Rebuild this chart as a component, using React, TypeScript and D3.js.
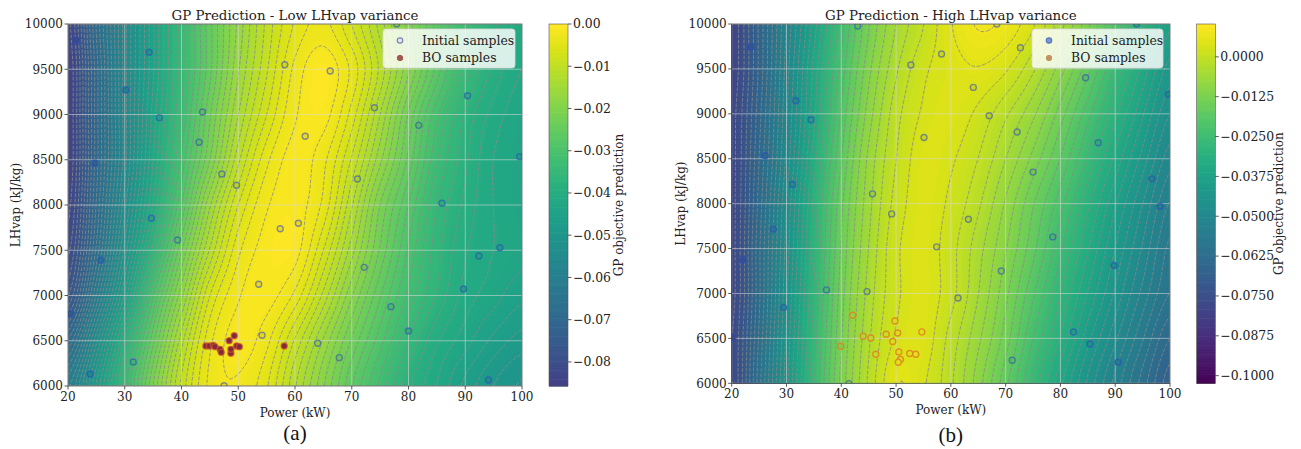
import React, { useMemo } from "react";
import * as d3 from "d3";

const FONT = "'DejaVu Serif', serif";

// ---------- data ----------
const powerTicks = [20, 30, 40, 50, 60, 70, 80, 90, 100];
const lhvapTicks = [6000, 6500, 7000, 7500, 8000, 8500, 9000, 9500, 10000];
const gridPower = [20, 25, 30, 35, 40, 45, 50, 55, 60, 65, 70, 75, 80, 85, 90, 95, 100];
const gridLhvap = [10000, 9500, 9000, 8500, 8000, 7500, 7000, 6500, 6000];

// GP mean, low LHvap variance (rows = gridLhvap, cols = gridPower)
const lowVarField = [
  [-0.083, -0.068, -0.055, -0.044, -0.034, -0.025, -0.017, -0.010, -0.005, -0.003, -0.007, -0.013, -0.020, -0.027, -0.033, -0.038, -0.041],
  [-0.084, -0.069, -0.055, -0.044, -0.034, -0.025, -0.016, -0.009, -0.003, -0.0005, -0.004, -0.011, -0.019, -0.027, -0.034, -0.039, -0.042],
  [-0.084, -0.069, -0.055, -0.043, -0.033, -0.023, -0.014, -0.007, -0.002, -0.001, -0.006, -0.014, -0.023, -0.031, -0.037, -0.041, -0.043],
  [-0.084, -0.069, -0.055, -0.042, -0.031, -0.021, -0.011, -0.004, -0.001, -0.003, -0.009, -0.017, -0.025, -0.033, -0.038, -0.042, -0.043],
  [-0.083, -0.068, -0.053, -0.040, -0.028, -0.016, -0.007, -0.002, -0.001, -0.004, -0.012, -0.021, -0.028, -0.035, -0.039, -0.042, -0.043],
  [-0.081, -0.066, -0.050, -0.036, -0.023, -0.012, -0.004, -0.001, -0.001, -0.007, -0.015, -0.023, -0.030, -0.036, -0.040, -0.042, -0.043],
  [-0.077, -0.061, -0.045, -0.030, -0.018, -0.007, -0.002, -0.001, -0.004, -0.011, -0.019, -0.026, -0.032, -0.037, -0.041, -0.043, -0.045],
  [-0.068, -0.053, -0.038, -0.025, -0.013, -0.004, -0.001, -0.003, -0.009, -0.016, -0.023, -0.029, -0.035, -0.040, -0.043, -0.046, -0.048],
  [-0.060, -0.047, -0.034, -0.021, -0.010, -0.003, -0.002, -0.005, -0.012, -0.019, -0.026, -0.032, -0.038, -0.042, -0.046, -0.049, -0.051],
];

// GP mean, high LHvap variance
const highVarField = [
  [-0.079, -0.066, -0.051, -0.037, -0.024, -0.013, -0.005, 0.000, 0.005, 0.008, 0.007, 0.003, -0.004, -0.012, -0.021, -0.030, -0.038],
  [-0.079, -0.066, -0.050, -0.035, -0.022, -0.011, -0.003, 0.002, 0.004, 0.005, 0.003, -0.002, -0.009, -0.017, -0.026, -0.034, -0.042],
  [-0.078, -0.065, -0.049, -0.034, -0.020, -0.009, -0.001, 0.003, 0.004, 0.002, -0.002, -0.007, -0.014, -0.022, -0.030, -0.038, -0.046],
  [-0.078, -0.064, -0.048, -0.032, -0.018, -0.007, 0.000, 0.004, 0.003, 0.000, -0.005, -0.011, -0.018, -0.026, -0.034, -0.042, -0.050],
  [-0.078, -0.063, -0.046, -0.030, -0.016, -0.006, 0.001, 0.004, 0.002, -0.002, -0.008, -0.015, -0.022, -0.030, -0.038, -0.046, -0.054],
  [-0.078, -0.062, -0.045, -0.029, -0.015, -0.005, 0.002, 0.004, 0.001, -0.004, -0.010, -0.017, -0.025, -0.033, -0.041, -0.049, -0.057],
  [-0.078, -0.062, -0.044, -0.028, -0.014, -0.004, 0.002, 0.004, 0.001, -0.005, -0.012, -0.020, -0.028, -0.036, -0.044, -0.052, -0.059],
  [-0.077, -0.061, -0.043, -0.027, -0.013, -0.003, 0.003, 0.004, -0.001, -0.007, -0.014, -0.023, -0.031, -0.040, -0.048, -0.056, -0.064],
  [-0.077, -0.060, -0.042, -0.026, -0.012, -0.002, 0.005, 0.003, -0.002, -0.009, -0.017, -0.026, -0.035, -0.044, -0.052, -0.060, -0.068],
];

const lowInitPower = [21.5, 34.3, 30.2, 36.1, 43.7, 43.1, 24.7, 47.1, 49.7, 34.7, 58.2, 61.8, 66.2, 60.6, 57.4, 74.0, 77.9, 90.4, 81.8, 99.6, 71.0, 85.9, 39.3, 25.8, 53.6, 20.4, 54.2, 31.5, 23.9, 64.0, 47.5, 72.2, 76.9, 67.8, 80.0, 89.7, 92.4, 96.1, 94.1];
const lowInitLhvap = [9823, 9687, 9271, 8965, 9028, 8693, 8464, 8343, 8218, 7853, 9550, 8759, 9481, 7798, 7738, 9075, 10000, 9208, 8880, 8534, 8287, 8019, 7613, 7389, 7124, 6798, 6560, 6265, 6133, 6472, 6003, 7311, 6877, 6313, 6608, 7072, 7436, 7528, 6066];
const lowBoPower = [44.3, 44.9, 45.6, 45.9, 46.8, 47.0, 48.4, 49.3, 48.7, 48.7, 49.7, 50.2, 58.1];
const lowBoLhvap = [6442, 6442, 6449, 6435, 6405, 6372, 6501, 6556, 6361, 6405, 6442, 6435, 6442];

const highInitPower = [23.5, 43.0, 31.7, 34.5, 26.1, 31.1, 45.7, 49.2, 52.7, 58.3, 64.1, 55.1, 63.2, 27.6, 72.7, 93.9, 84.6, 67.0, 72.1, 99.7, 86.9, 75.0, 96.7, 98.2, 22.0, 37.3, 44.7, 29.5, 57.4, 61.3, 20.2, 41.4, 78.6, 69.2, 89.8, 82.4, 85.4, 71.2, 90.5, 68.4];
const highInitLhvap = [9744, 9978, 9146, 8934, 8533, 8214, 8109, 7886, 9543, 9666, 9294, 8737, 7827, 7716, 9736, 10000, 9402, 8978, 8797, 9217, 8678, 8351, 8276, 7972, 7370, 7040, 7021, 6843, 7519, 6950, 6509, 5996, 7630, 7251, 7311, 6571, 6438, 6256, 6234, 10000];
const highBoPower = [42.1, 49.8, 44.0, 45.4, 48.2, 50.3, 49.4, 39.9, 46.3, 50.5, 50.8, 50.4, 52.5, 53.6, 54.7];
const highBoLhvap = [6758, 6694, 6524, 6505, 6546, 6560, 6465, 6412, 6323, 6349, 6265, 6234, 6331, 6323, 6572];

const lowCbTicks = [0, -0.01, -0.02, -0.03, -0.04, -0.05, -0.06, -0.07, -0.08];
const highCbTicks = [0, -0.0125, -0.025, -0.0375, -0.05, -0.0625, -0.075, -0.0875, -0.1];

// ---------- helpers ----------
const cub = (p0: number, p1: number, p2: number, p3: number, t: number) =>
  p1 + 0.5 * t * (p2 - p0 + t * (2 * p0 - 5 * p1 + 4 * p2 - p3 + t * (3 * (p1 - p2) + p3 - p0)));

function sampleField(field: number[][], u: number, v: number) {
  const rows = field.length, cols = field[0].length;
  const get = (r: number, c: number) =>
    field[Math.max(0, Math.min(rows - 1, r))][Math.max(0, Math.min(cols - 1, c))];
  const c = Math.max(0, Math.min(cols - 2, Math.floor(u)));
  const r = Math.max(0, Math.min(rows - 2, Math.floor(v)));
  const tu = u - c, tv = v - r;
  const rv = [-1, 0, 1, 2].map((dr) => cub(get(r + dr, c - 1), get(r + dr, c), get(r + dr, c + 1), get(r + dr, c + 2), tu));
  return cub(rv[0], rv[1], rv[2], rv[3], tv);
}

const fmtMinus = (s: string) => s.replace("-", "\u2212");

type PanelProps = {
  field: number[][];
  left: number; top: number; width: number; height: number;
  cbX: number; cbW: number; cbMin: number; cbMax: number; colorMin: number;
  cbTicks: number[]; cbFmt: string; lineLevels: number;
  title: string; letter: string; letterY: number;
  yLabelX: number; cbLabelX: number;
  initP: number[]; initL: number[]; boP: number[]; boL: number[];
  legendX: number; legendW: number;
  boFill: string; boStroke: string;
  legInitFill: string; legInitStroke: string; legBoFill: string;
  pointStroke: string;
  id: string;
};

function Panel(p: PanelProps) {
  const x = d3.scaleLinear().domain([20, 100]).range([p.left, p.left + p.width]);
  const y = d3.scaleLinear().domain([6000, 10000]).range([p.top + p.height, p.top]);
  const color = (v: number) => d3.interpolateViridis(Math.max(0, Math.min(1, (v - p.colorMin) / (p.cbMax - p.colorMin))));
  const nx = Math.round(p.width / 2), ny = Math.round(p.height / 2);
  const rows = p.field.length, cols = p.field[0].length;

  const { fills, lines } = useMemo(() => {
    const vals: number[] = new Array(nx * ny);
    for (let j = 0; j < ny; j++) {
      const v = ((j + 0.5) / ny) * (rows - 1);
      for (let i = 0; i < nx; i++) {
        const u = ((i + 0.5) / nx) * (cols - 1);
        vals[j * nx + i] = sampleField(p.field, u, v);
      }
    }
    const sx = p.width / nx, sy = p.height / ny;
    const proj = d3.geoTransform({
      point(this: any, gx: number, gy: number) {
        this.stream.point(p.left + gx * sx, p.top + gy * sy);
      },
    });
    const gp = d3.geoPath(proj);
    const dmin = d3.min(vals) as number;
    const N = 120;
    const fillLevels = d3.range(N + 1).map((i) => p.cbMin + ((p.cbMax - p.cbMin) * i) / N);
    fillLevels[0] = Math.min(fillLevels[0], dmin) - 1e-9;
    const fillPolys = d3.contours().size([nx, ny]).thresholds(fillLevels)(vals);
    const step = (p.cbMax - p.cbMin) / N;
    const fills = fillPolys.map((c, i) => {
      const mid = i === 0 ? p.cbMin + step / 2 : fillLevels[i] + step / 2;
      return { d: gp(c as any) || "", fill: color(mid) };
    });
    const L = p.lineLevels;
    const lineLevels = d3.range(L).map((i) => p.cbMin + ((p.cbMax - p.cbMin) * i) / (L - 1));
    const linePolys = d3.contours().size([nx, ny]).thresholds(lineLevels.slice(1, L - 1))(vals);
    const eps = 1e-6;
    const onB = (a: number[], b: number[]) =>
      (a[0] <= eps && b[0] <= eps) || (a[0] >= nx - eps && b[0] >= nx - eps) ||
      (a[1] <= eps && b[1] <= eps) || (a[1] >= ny - eps && b[1] >= ny - eps);
    const X = (q: number[]) => (p.left + q[0] * sx).toFixed(1);
    const Y = (q: number[]) => (p.top + q[1] * sy).toFixed(1);
    const lines = linePolys.map((mp) => {
      let d = "";
      for (const poly of mp.coordinates) {
        for (const ring of poly) {
          let pen = false;
          for (let k = 0; k < ring.length - 1; k++) {
            const a = ring[k], b = ring[k + 1];
            if (onB(a, b)) { pen = false; continue; }
            if (!pen) { d += `M${X(a)},${Y(a)}`; pen = true; }
            d += `L${X(b)},${Y(b)}`;
          }
        }
      }
      return d;
    });
    return { fills, lines };
  }, []);

  const fieldColorAt = (P: number, Lh: number) => {
    const u = ((P - 20) / 80) * (cols - 1);
    const v = ((10000 - Lh) / 4000) * (rows - 1);
    return color(sampleField(p.field, u, v));
  };

  const cbTop = p.top, cbBottom = p.top + p.height;
  const cbScale = d3.scaleLinear().domain([p.cbMin, p.cbMax]).range([cbBottom, cbTop]);
  const cbSteps = 160;
  const cbRects = d3.range(cbSteps).map((i) => {
    const v0 = p.cbMin + ((p.cbMax - p.cbMin) * i) / cbSteps;
    const v1 = p.cbMin + ((p.cbMax - p.cbMin) * (i + 1)) / cbSteps;
    return { y: cbScale(v1), h: cbScale(v0) - cbScale(v1) + 0.6, fill: color((v0 + v1) / 2) };
  });

  const midX = p.left + p.width / 2;
  const midY = p.top + p.height / 2;
  const bottom = p.top + p.height;
  const clipId = `clip-${p.id}`;
  const fmt = d3.format(p.cbFmt);

  return (
    <g>
      <defs>
        <clipPath id={clipId}>
          <rect x={p.left} y={p.top} width={p.width} height={p.height} />
        </clipPath>
      </defs>
      <g clipPath={`url(#${clipId})`}>
        {fills.map((f, i) => (
          <path key={i} d={f.d} fill={f.fill} stroke={f.fill} strokeWidth={0.3} />
        ))}
        {lines.map((d, i) => (
          <path key={i} d={d} fill="none" stroke="#8a8a8a" strokeOpacity={0.8} strokeWidth={1} strokeDasharray="3.7 1.6" />
        ))}
        {powerTicks.map((t) => (
          <line key={"gx" + t} x1={x(t)} x2={x(t)} y1={p.top} y2={bottom} stroke="#dcdcdc" strokeOpacity={0.55} strokeWidth={1} />
        ))}
        {lhvapTicks.map((t) => (
          <line key={"gy" + t} x1={p.left} x2={p.left + p.width} y1={y(t)} y2={y(t)} stroke="#dcdcdc" strokeOpacity={0.55} strokeWidth={1} />
        ))}
        {p.initP.map((P, i) => (
          <circle key={"i" + i} cx={x(P)} cy={y(p.initL[i])} r={3} fill={d3.color(fieldColorAt(P, p.initL[i]))!.darker(0.15).toString()} stroke={p.pointStroke} strokeWidth={1.4} />
        ))}
        {p.boP.map((P, i) => (
          <circle key={"b" + i} cx={x(P)} cy={y(p.boL[i])} r={3} fill={p.boFill === "field" ? fieldColorAt(P, p.boL[i]) : p.boFill} stroke={p.boStroke} strokeWidth={1.4} />
        ))}
      </g>
      <rect x={p.left} y={p.top} width={p.width} height={p.height} fill="none" stroke="#555" strokeWidth={0.8} />

      {powerTicks.map((t) => (
        <g key={"tx" + t}>
          <line x1={x(t)} x2={x(t)} y1={bottom} y2={bottom + 3.5} stroke="#333" strokeWidth={0.8} />
          <text x={x(t)} y={bottom + 15} textAnchor="middle" fontFamily={FONT} fontSize={12} fill="#222">{t}</text>
        </g>
      ))}
      {lhvapTicks.map((t) => (
        <g key={"ty" + t}>
          <line x1={p.left - 3.5} x2={p.left} y1={y(t)} y2={y(t)} stroke="#333" strokeWidth={0.8} />
          <text x={p.left - 5} y={y(t) + 4.3} textAnchor="end" fontFamily={FONT} fontSize={12} fill="#222">{t}</text>
        </g>
      ))}
      <text x={midX} y={bottom + 31} textAnchor="middle" fontFamily={FONT} fontSize={12} fill="#222">Power (kW)</text>
      <text transform={`translate(${p.yLabelX},${midY}) rotate(-90)`} textAnchor="middle" dominantBaseline="central" fontFamily={FONT} fontSize={12} fill="#222">LHvap (kJ/kg)</text>
      <text x={midX} y={19.5} textAnchor="middle" fontFamily={FONT} fontSize={13.4} fill="#222">{p.title}</text>
      <text x={midX} y={p.letterY + 7} textAnchor="middle" fontFamily="'Liberation Serif', 'Times New Roman', serif" fontSize={21} fill="#111">{p.letter}</text>

      <g>
        <rect x={p.legendX} y={29} width={p.legendW} height={39} rx={3} fill="#fff" fillOpacity={0.82} stroke="#d8d8d8" strokeWidth={0.8} />
        <circle cx={p.legendX + 17} cy={40.5} r={2.7} fill={p.legInitFill} stroke={p.legInitStroke} strokeWidth={1.2} />
        <circle cx={p.legendX + 17} cy={58} r={2.7} fill={p.legBoFill} stroke={p.legBoFill} strokeWidth={1} />
        <text x={p.legendX + 39} y={44.5} fontFamily={FONT} fontSize={12.4} fill="#222">Initial samples</text>
        <text x={p.legendX + 39} y={62} fontFamily={FONT} fontSize={12.4} fill="#222">BO samples</text>
      </g>

      <g>
        {cbRects.map((r, i) => (
          <rect key={i} x={p.cbX} y={r.y} width={p.cbW} height={r.h} fill={r.fill} />
        ))}
        <rect x={p.cbX} y={cbTop} width={p.cbW} height={cbBottom - cbTop} fill="none" stroke="#555" strokeWidth={0.6} />
        {p.cbTicks.map((t) => (
          <g key={"cb" + t}>
            <line x1={p.cbX + p.cbW} x2={p.cbX + p.cbW + 3.5} y1={cbScale(t)} y2={cbScale(t)} stroke="#333" strokeWidth={0.8} />
            <text x={p.cbX + p.cbW + 5} y={cbScale(t) + 4.3} fontFamily={FONT} fontSize={12.4} fill="#222">{fmtMinus(fmt(t))}</text>
          </g>
        ))}
        <text transform={`translate(${p.cbLabelX},${midY}) rotate(-90)`} textAnchor="middle" dominantBaseline="central" fontFamily={FONT} fontSize={12} fill="#222">GP objective prediction</text>
      </g>
    </g>
  );
}

export default function App() {
  return (
    <svg width={1301} height={449} style={{ display: "block", position: "absolute", left: 0, top: 0, background: "#fff" }}>
      <rect width={1301} height={449} fill="#fff" />
      <Panel
        id="a"
        field={lowVarField}
        left={68} top={24} width={454} height={362}
        cbX={549} cbW={19} cbMin={-0.0857} cbMax={0} colorMin={-0.105}
        cbTicks={lowCbTicks} cbFmt=".2f" lineLevels={50}
        title="GP Prediction - Low LHvap variance" letter="(a)" letterY={433}
        yLabelX={16} cbLabelX={619}
        initP={lowInitPower} initL={lowInitLhvap} boP={lowBoPower} boL={lowBoLhvap}
        legendX={383} legendW={132}
        boFill="#7e2a3c" boStroke="rgba(200,80,50,0.75)"
        legInitFill="#e4e6f0" legInitStroke="#7d84b3" legBoFill="#a2574f"
        pointStroke="rgba(45,70,200,0.55)"
      />
      <Panel
        id="b"
        field={highVarField}
        left={731.7} top={24} width={438.3} height={359.3}
        cbX={1196.7} cbW={18.6} cbMin={-0.1024} cbMax={0.0103} colorMin={-0.1024}
        cbTicks={highCbTicks} cbFmt=".4f" lineLevels={45}
        title="GP Prediction - High LHvap variance" letter="(b)" letterY={435}
        yLabelX={681} cbLabelX={1279}
        initP={highInitPower} initL={highInitLhvap} boP={highBoPower} boL={highBoLhvap}
        legendX={1032} legendW={131}
        boFill="field" boStroke="rgba(225,130,30,0.85)"
        legInitFill="#7d97cf" legInitStroke="#5b76c2" legBoFill="#c4925e"
        pointStroke="rgba(45,70,200,0.55)"
      />
    </svg>
  );
}
